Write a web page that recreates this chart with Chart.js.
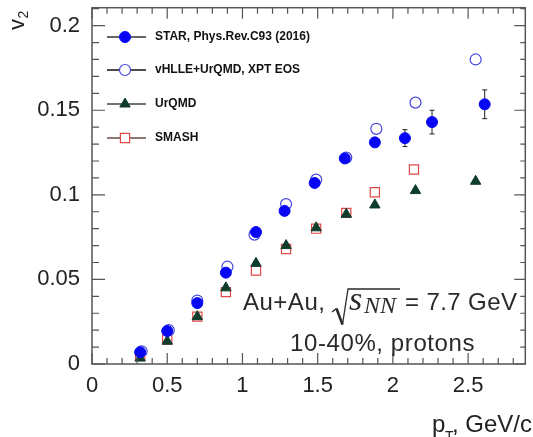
<!DOCTYPE html>
<html><head><meta charset="utf-8">
<script src="https://cdn.jsdelivr.net/npm/chart.js@4.4.0/dist/chart.umd.min.js"></script>
<style>html,body{margin:0;padding:0;background:#fff;}canvas{display:block;}</style>
</head><body>
<canvas id="c" width="533" height="437"></canvas>
<script>
// ---- data ----
const starPt   = [0.32, 0.50, 0.70, 0.89, 1.09, 1.28, 1.48, 1.68, 1.88, 2.08, 2.26, 2.61];
const starV2   = [0.007, 0.0195, 0.036, 0.054, 0.078, 0.0905, 0.107, 0.1215, 0.131, 0.1335, 0.143, 0.1535];
const starErr  = [0, 0, 0, 0, 0, 0, 0, 0, 0.002, 0.005, 0.007, 0.0085];
const vhllePt  = [0.33, 0.51, 0.70, 0.90, 1.08, 1.29, 1.49, 1.69, 1.89, 2.15, 2.55];
const vhlleV2  = [0.0075, 0.020, 0.0375, 0.0575, 0.0765, 0.0945, 0.109, 0.122, 0.139, 0.1545, 0.180];
const urqmdPt  = [0.32, 0.50, 0.70, 0.89, 1.09, 1.29, 1.49, 1.69, 1.88, 2.15, 2.55];
const urqmdV2  = [0.0035, 0.0135, 0.028, 0.045, 0.0595, 0.070, 0.0805, 0.0885, 0.094, 0.1025, 0.108];
const smashPt  = [0.32, 0.50, 0.70, 0.89, 1.09, 1.29, 1.49, 1.69, 1.88, 2.14];
const smashV2  = [0.005, 0.0145, 0.028, 0.0425, 0.0553, 0.068, 0.080, 0.0893, 0.1015, 0.115];
const xTicks = [0, 0.5, 1, 1.5, 2, 2.5];
const yTicks = [0, 0.05, 0.1, 0.15, 0.2];
const xTickLabels = ['0', '0.5', '1', '1.5', '2', '2.5'];
const yTickLabels = ['0', '0.05', '0.1', '0.15', '0.2'];
const legendLabels = ['STAR, Phys.Rev.C93 (2016)', 'vHLLE+UrQMD, XPT EOS', 'UrQMD', 'SMASH'];

const pts = (xs, ys) => xs.map((x, i) => ({x, y: ys[i]}));
const C_STAR = '#0606f4', C_VH = '#4646dc', C_UR = '#0f3d2c', C_SM = '#e04848';
const SANS = '"Liberation Sans", Arial, sans-serif';
const SERIF = '"Liberation Serif", "Times New Roman", serif';

const datasets = [
  {label: legendLabels[0], data: pts(starPt, starV2), pointStyle: 'circle', pointRadius: 5.5,
   backgroundColor: C_STAR, borderColor: C_STAR, borderWidth: 1, showLine: false, legLine: '#333'},
  {label: legendLabels[1], data: pts(vhllePt, vhlleV2), pointStyle: 'circle', pointRadius: 5.5,
   backgroundColor: 'rgba(0,0,0,0)', borderColor: C_VH, borderWidth: 1.2, showLine: false, legLine: '#111'},
  {label: legendLabels[2], data: pts(urqmdPt, urqmdV2), pointStyle: 'triangle', pointRadius: 6,
   backgroundColor: C_UR, borderColor: C_UR, borderWidth: 1, showLine: false, legLine: '#3b4a44'},
  {label: legendLabels[3], data: pts(smashPt, smashV2), pointStyle: 'rect', pointRadius: 6.5,
   backgroundColor: 'rgba(0,0,0,0)', borderColor: C_SM, borderWidth: 1.2, showLine: false, legLine: '#6a4a44'}
];

const decor = {
  id: 'decor',
  beforeDatasetsDraw(chart) {
    const ctx = chart.ctx, xs = chart.scales.x, ys = chart.scales.y;
    ctx.save();
    ctx.strokeStyle = '#222'; ctx.lineWidth = 1;
    starPt.forEach((x, i) => {
      if (!starErr[i]) return;
      const px = xs.getPixelForValue(x);
      const y1 = ys.getPixelForValue(starV2[i] - starErr[i]);
      const y2 = ys.getPixelForValue(starV2[i] + starErr[i]);
      ctx.beginPath();
      ctx.moveTo(px, y1); ctx.lineTo(px, y2);
      ctx.moveTo(px - 2.5, y1); ctx.lineTo(px + 2.5, y1);
      ctx.moveTo(px - 2.5, y2); ctx.lineTo(px + 2.5, y2);
      ctx.stroke();
    });
    ctx.restore();
  },
  afterDraw(chart) {
    const ctx = chart.ctx, xs = chart.scales.x, ys = chart.scales.y, a = chart.chartArea;
    ctx.save();
    // frame
    ctx.strokeStyle = '#555'; ctx.lineWidth = 1.5;
    ctx.strokeRect(a.left, a.top, a.right - a.left, a.bottom - a.top);
    ctx.lineWidth = 1.2;
    ctx.beginPath();
    for (let i = 0; i <= 28; i++) {
      const v = i / 10; const px = xs.getPixelForValue(v);
      if (px > a.right - 1) continue;
      const L = (i % 5 === 0) ? 11 : 6;
      ctx.moveTo(px, a.bottom); ctx.lineTo(px, a.bottom - L);
      ctx.moveTo(px, a.top); ctx.lineTo(px, a.top + L);
    }
    for (let i = 0; i <= 21; i++) {
      const v = i / 100; const py = ys.getPixelForValue(v);
      if (py < a.top + 1) continue;
      const L = (i % 5 === 0) ? 13 : 7;
      ctx.moveTo(a.left, py); ctx.lineTo(a.left + L, py);
      ctx.moveTo(a.right, py); ctx.lineTo(a.right - L + 2, py);
    }
    ctx.stroke();

    // legend
    const rows = [37, 70, 104, 138];
    chart.data.datasets.forEach((ds, i) => {
      const y = rows[i];
      ctx.strokeStyle = ds.legLine; ctx.lineWidth = 1.3;
      ctx.beginPath(); ctx.moveTo(107, y); ctx.lineTo(146, y); ctx.stroke();
      ctx.fillStyle = ds.backgroundColor === 'rgba(0,0,0,0)' ? '#fff' : ds.backgroundColor;
      ctx.strokeStyle = ds.borderColor; ctx.lineWidth = ds.borderWidth;
      Chart.helpers.drawPoint(ctx, {pointStyle: ds.pointStyle, radius: ds.pointRadius, borderWidth: ds.borderWidth, rotation: 0}, 125, y);
      ctx.fillStyle = '#111';
      ctx.font = 'bold 12px ' + SANS;
      ctx.textBaseline = 'middle'; ctx.textAlign = 'left';
      ctx.fillText(ds.label, 155, y);
    });

    // annotation
    ctx.fillStyle = '#2a2a2a'; ctx.strokeStyle = '#2a2a2a';
    ctx.textBaseline = 'alphabetic'; ctx.textAlign = 'left';
    ctx.letterSpacing = '0.5px';
    ctx.font = '24px ' + SANS;
    ctx.fillText('Au+Au,', 243, 310);
    ctx.letterSpacing = '0px';
    ctx.lineWidth = 1.4;
    ctx.beginPath();
    ctx.moveTo(332, 312); ctx.lineTo(336.5, 308.5); ctx.stroke();
    ctx.lineWidth = 2.6;
    ctx.beginPath(); ctx.moveTo(336.5, 308.5); ctx.lineTo(342.5, 324.5); ctx.stroke();
    ctx.lineWidth = 1.3;
    ctx.beginPath(); ctx.moveTo(342.5, 324.5); ctx.lineTo(348, 289); ctx.lineTo(400, 289); ctx.stroke();
    ctx.font = 'italic 34px ' + SERIF;
    ctx.fillText('s', 349, 310);
    ctx.font = 'italic 24px ' + SERIF;
    ctx.fillText('NN', 364, 313);
    ctx.letterSpacing = '0.4px';
    ctx.font = '24px ' + SANS;
    ctx.fillText('= 7.7 GeV', 405, 310);
    ctx.letterSpacing = '0.6px';
    ctx.textAlign = 'left';
    ctx.fillText('10-40%, protons', 290, 351);
    ctx.letterSpacing = '0px';

    // axis titles
    ctx.fillStyle = '#222';
    ctx.font = '24px ' + SANS;
    ctx.fillText('p', 432, 432);
    ctx.font = '14px ' + SANS;
    ctx.fillText('T', 445, 441);
    ctx.font = '24px ' + SANS;
    ctx.fillText(', GeV/c', 452, 432);
    ctx.save();
    ctx.translate(24, 30); ctx.rotate(-Math.PI / 2);
    ctx.font = '22px ' + SANS;
    ctx.fillText('v', 0, 0);
    ctx.font = '14px ' + SANS;
    ctx.fillText('2', 11.5, 4);
    ctx.restore();
    ctx.restore();
  }
};

new Chart(document.getElementById('c'), {
  type: 'scatter',
  data: {datasets},
  options: {
    responsive: false, animation: false, devicePixelRatio: 1,
    layout: {padding: {left: 0, right: 3, top: 6, bottom: 0}},
    plugins: {legend: {display: false}, tooltip: {enabled: false}},
    scales: {
      x: {
        type: 'linear', min: 0, max: 2.88,
        grid: {display: false, drawTicks: false}, border: {display: false},
        afterBuildTicks: s => { s.ticks = xTicks.map(v => ({value: v})); },
        afterFit: s => { s.height = 73; s.paddingLeft = 0; s.paddingRight = 0; },
        ticks: {padding: 9, color: '#222', font: {size: 22, family: SANS},
          maxRotation: 0, autoSkip: false,
          callback: (v) => xTickLabels[xTicks.indexOf(v)] ?? ''}
      },
      y: {
        type: 'linear', min: 0, max: 0.2106,
        grid: {display: false, drawTicks: false}, border: {display: false},
        afterBuildTicks: s => { s.ticks = yTicks.map(v => ({value: v})); },
        afterFit: s => { s.width = 92; s.paddingTop = 0; s.paddingBottom = 0; },
        ticks: {padding: 12, color: '#222', font: {size: 22, family: SANS},
          autoSkip: false,
          callback: (v) => yTickLabels[yTicks.indexOf(v)] ?? ''}
      }
    }
  },
  plugins: [decor]
});
</script>
</body></html>
